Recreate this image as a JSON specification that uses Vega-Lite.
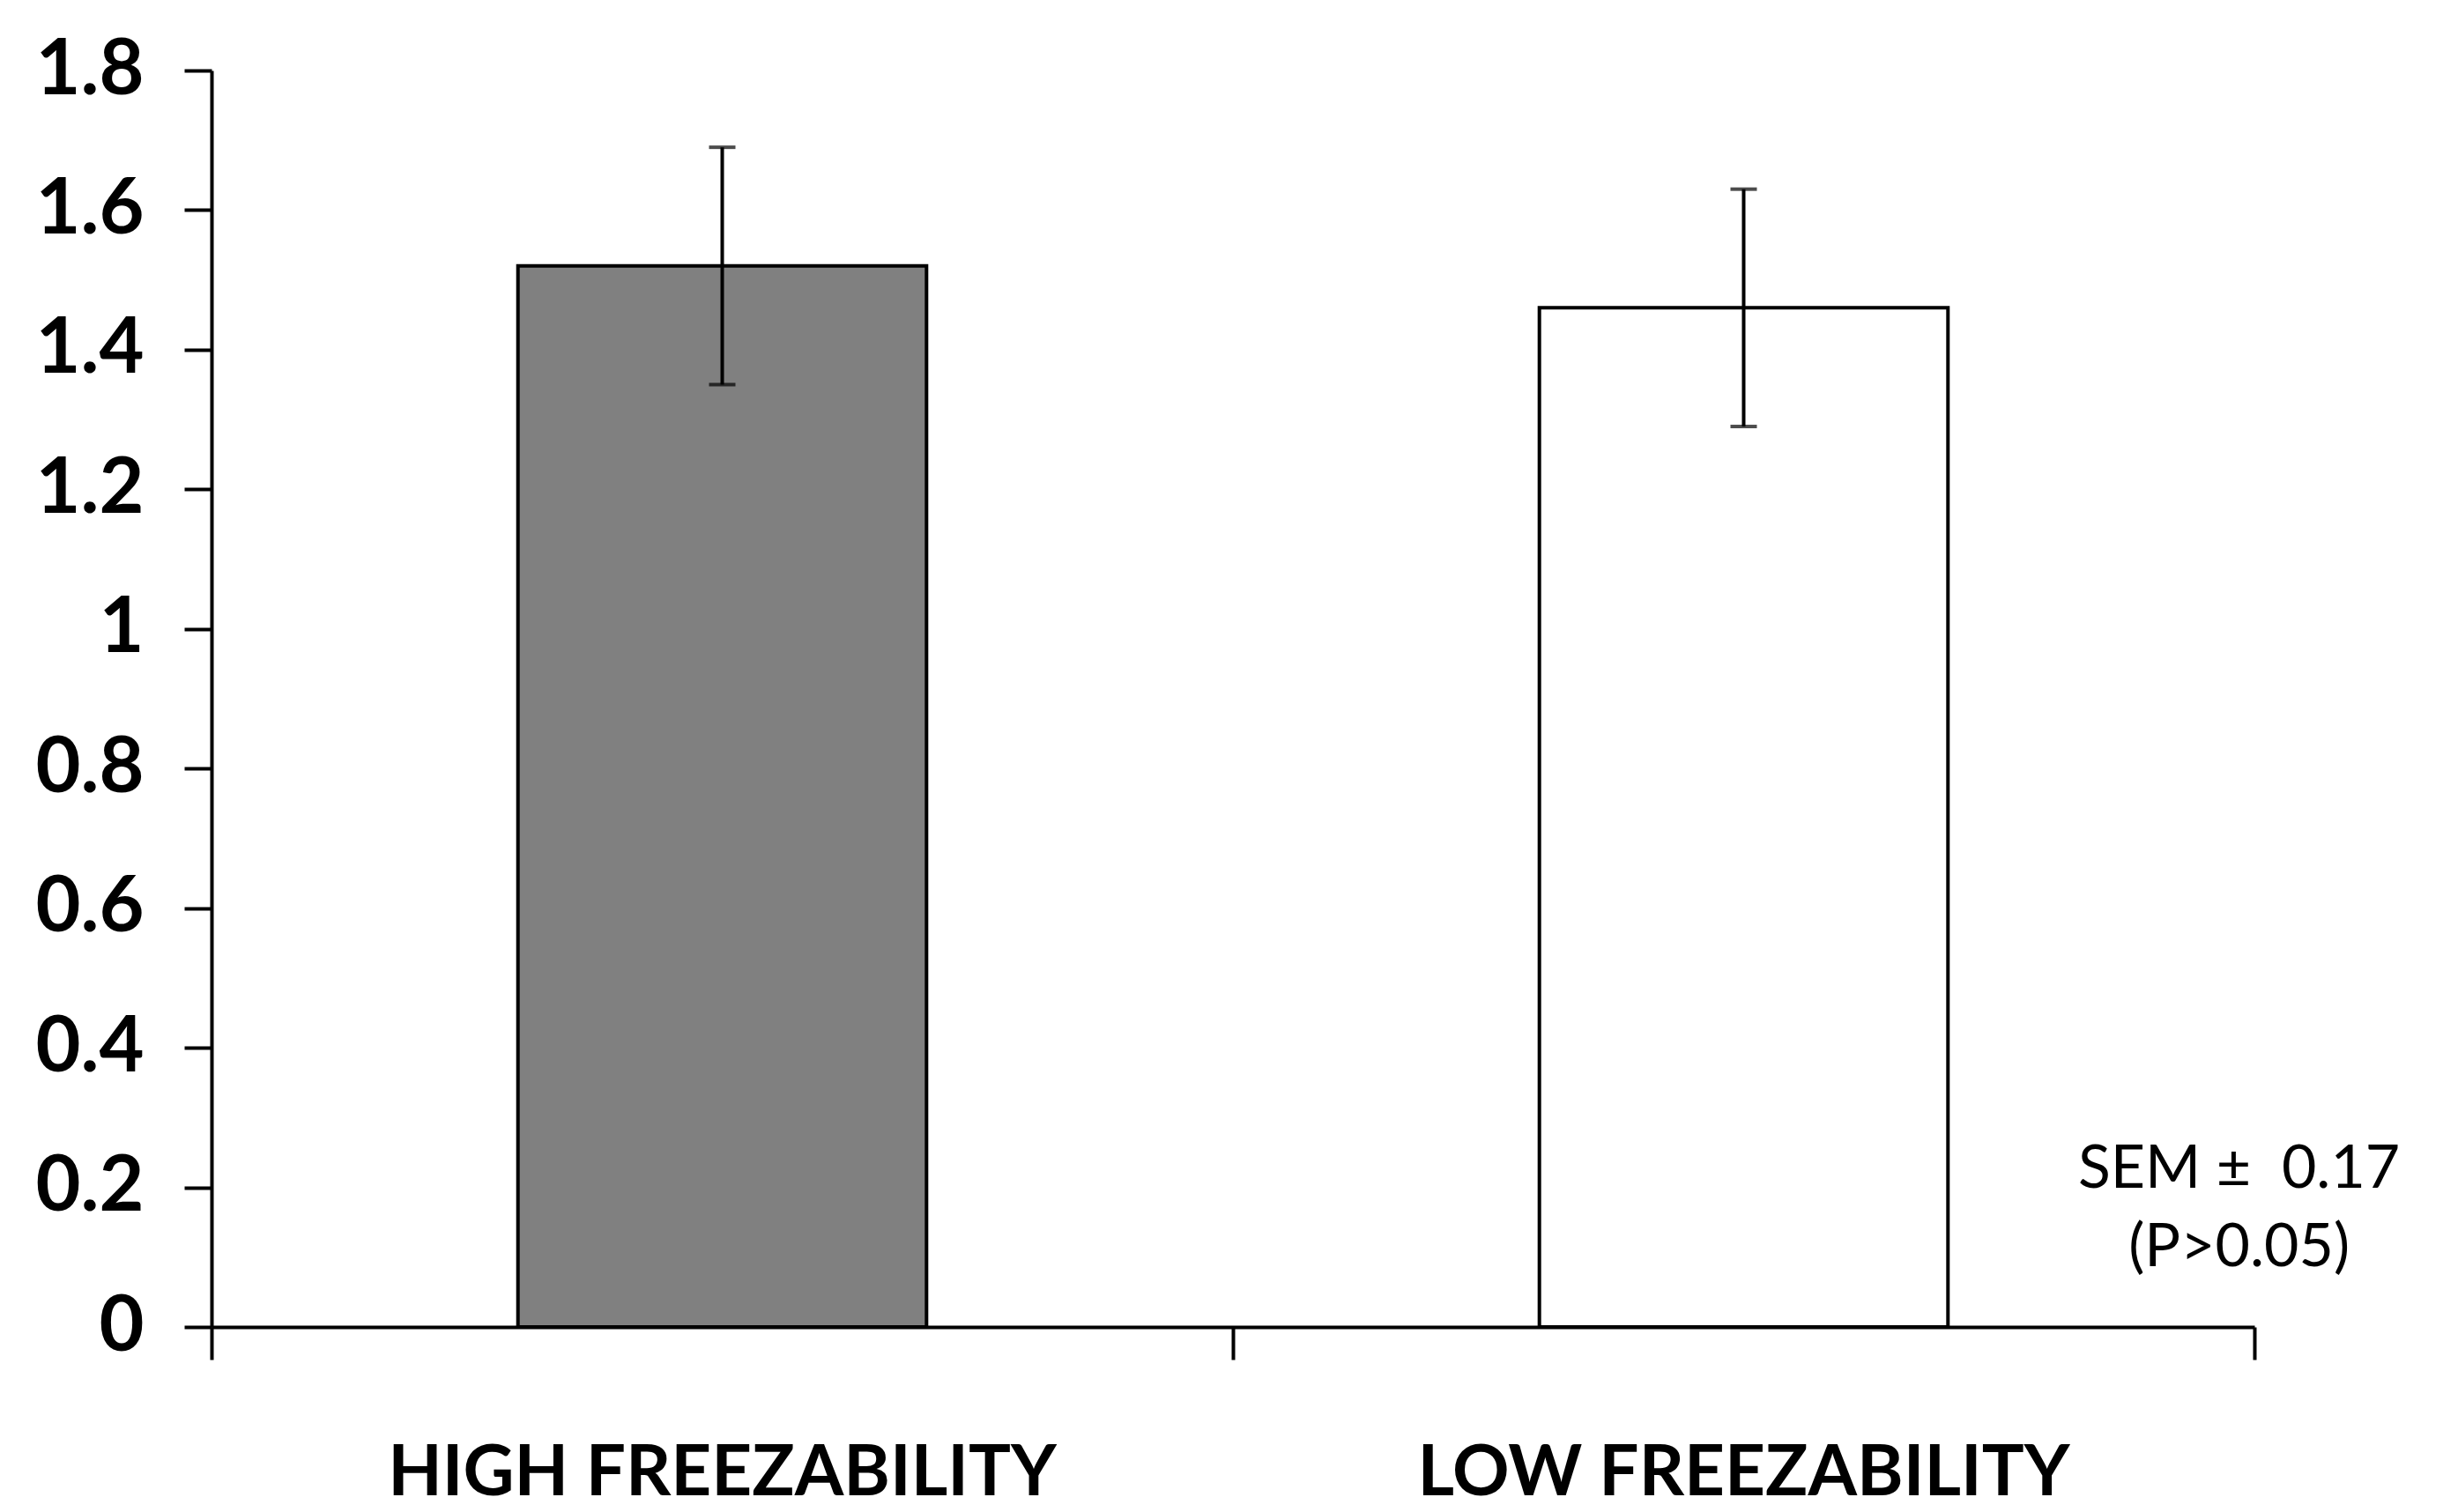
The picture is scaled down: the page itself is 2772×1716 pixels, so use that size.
{
  "$schema": "https://vega.github.io/schema/vega-lite/v6.json",
  "width": 2318,
  "height": 1426,
  "autosize": {"type": "none"},
  "padding": {"left": 240, "top": 80, "right": 214, "bottom": 210},
  "background": "white",
  "config": {
    "view": {"stroke": null},
    "axis": {"grid": false, "domainColor": "black", "tickColor": "black", "labelColor": "black"}
  },
  "datasets": {
    "groups": [
      {"group": "HIGH FREEZABILITY", "mean": 1.52, "sem": 0.17},
      {"group": "LOW FREEZABILITY", "mean": 1.46, "sem": 0.17}
    ],
    "note": [{"label": "SEM ±  0.17 (P>0.05)"}]
  },
  "layer": [
    {
      "data": {"name": "groups"},
      "layer": [
        {
          "mark": {"type": "bar", "stroke": "black", "strokeWidth": 4},
          "encoding": {
            "x": {
              "field": "group", "type": "nominal", "sort": null,
              "scale": {"paddingInner": 0.6, "paddingOuter": 0.3},
              "axis": {
                "title": null, "labelAngle": 0, "ticks": false, "tickSize": 0,
                "domainWidth": 4, "labelLimit": 0,
                "labelFont": "Lato",
                "labelFontWeight": "bold", "labelFontSize": 80,
                "labelBaseline": "alphabetic", "labelPadding": 190
              }
            },
            "y": {
              "field": "mean", "type": "quantitative",
              "scale": {"domain": [0, 1.8], "nice": false},
              "axis": {
                "title": null,
                "values": [0, 0.2, 0.4, 0.6, 0.8, 1, 1.2, 1.4, 1.6, 1.8],
                "format": "~g",
                "tickSize": 31, "tickWidth": 4, "domainWidth": 4,
                "labelFont": "Lato",
                "labelFontWeight": "bold", "labelFontSize": 88, "labelPadding": 46
              }
            },
            "color": {
              "field": "group", "type": "nominal",
              "scale": {"domain": ["HIGH FREEZABILITY", "LOW FREEZABILITY"], "range": ["#808080", "#ffffff"]},
              "legend": null
            }
          }
        },
        {
          "mark": {
            "type": "errorbar",
            "ticks": {"size": 30, "thickness": 4, "color": "black"},
            "rule": {"strokeWidth": 4, "color": "black"}
          },
          "encoding": {
            "x": {"field": "group", "type": "nominal", "sort": null},
            "y": {"field": "mean", "type": "quantitative"},
            "yError": {"field": "sem"}
          }
        }
      ]
    },
    {
      "data": {"name": "note"},
      "mark": {
        "type": "text",
        "text": ["SEM ±\u00a0 0.17", "(P>0.05)"],
        "font": "Lato", "fontSize": 68, "lineHeight": 89,
        "align": "center", "baseline": "alphabetic", "color": "black"
      },
      "encoding": {
        "x": {
          "datum": 1.985, "type": "quantitative",
          "scale": {"domain": [0, 2], "nice": false, "zero": false},
          "axis": {
            "values": [0, 1, 2], "labels": false, "title": null, "domain": false,
            "tickSize": 37, "tickWidth": 4, "orient": "bottom", "grid": false
          }
        },
        "y": {"datum": 0.2, "type": "quantitative"}
      }
    }
  ],
  "resolve": {"scale": {"x": "independent"}, "axis": {"x": "independent"}}
}
